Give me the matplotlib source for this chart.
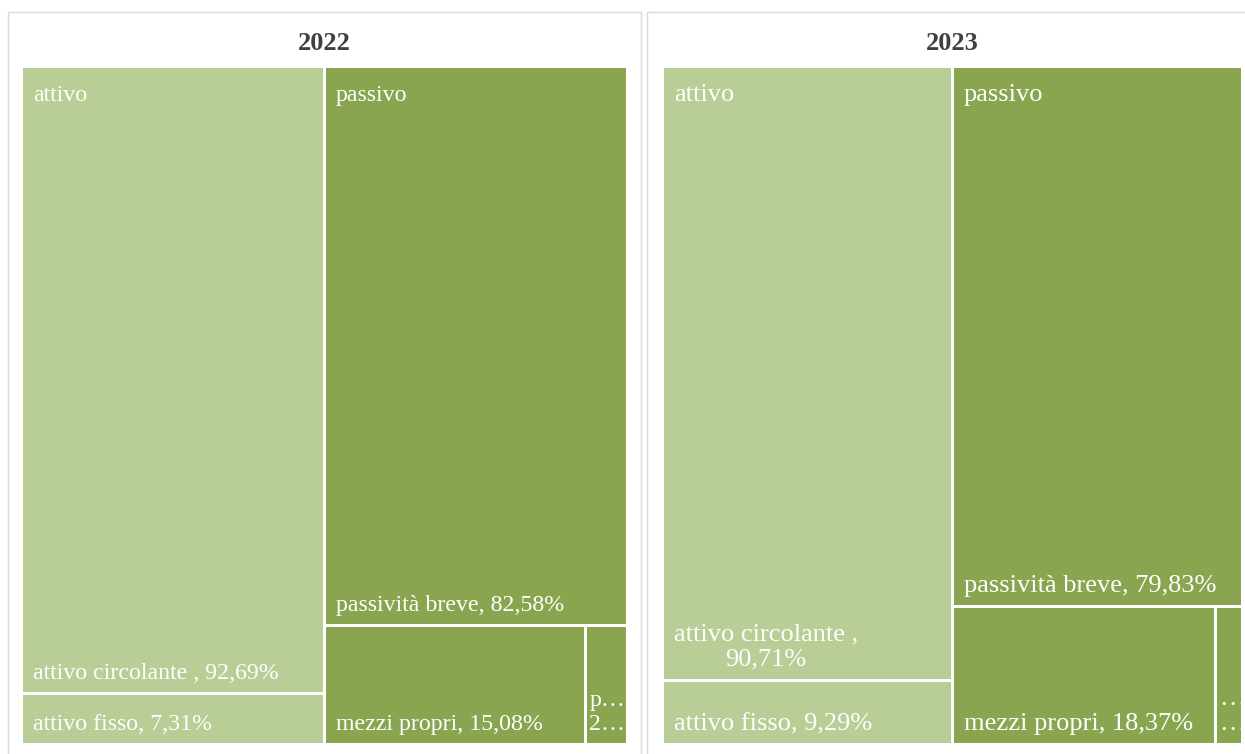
import matplotlib.pyplot as plt
from matplotlib.patches import Rectangle

# Stato patrimoniale, composizione percentuale
years = ["2022", "2023"]
groups = ["attivo", "passivo"]

attivo_names = ["attivo circolante ", "attivo fisso"]
attivo_2022 = [92.69, 7.31]
attivo_2023 = [90.71, 9.29]

passivo_names = ["passività breve", "mezzi propri", "passività a lungo"]
passivo_2022 = [82.58, 15.08, 2.34]
passivo_2023 = [79.83, 18.37, 1.80]

LIGHT = "#B9CD96"
DARK = "#8AA54F"
GAP = 3
PAD = 10

plt.rcParams["font.family"] = ["Liberation Serif", "DejaVu Serif"]

fig = plt.figure(figsize=(12.45, 7.54), dpi=100)
ax = fig.add_axes([0, 0, 1, 1])
ax.set_xlim(0, 1245)
ax.set_ylim(754, 0)
ax.axis("off")


def fmt(v):
    return f"{v:.2f}".replace(".", ",") + "%"


def squeeze_label(name, value, width):
    # labels that do not fit the box get cut short
    text = f"{name}, {fmt(value)}"
    if width > 120:
        return text
    if width > 32:
        return name[0] + "…\n" + fmt(value)[0] + "…"
    return "…\n…"


def leaf(x, y, w, h, color, label, fs, wrap=False):
    ax.add_patch(Rectangle((x, y), w, h, facecolor=color, edgecolor="none"))
    pad = PAD if w > 60 else 2
    t = ax.text(x + pad, y + h - 13, label, color="white",
                fontsize=fs, va="baseline", ha="left", multialignment="center")
    if wrap:
        fig.canvas.draw()
        bb = t.get_window_extent()
        if bb.width > w - 2 * PAD:
            t.set_text(label.replace(", ", ",\n", 1))


def group(x, y, w, h, names, values, color, title, fs):
    total = sum(values)
    # first item spans the whole width, the rest share the bottom row
    h0 = h * values[0] / total
    rest = values[1:]
    leaf(x, y, w, h0 - GAP / 2, color,
         f"{names[0]}, {fmt(values[0])}", fs, wrap=True)
    cx = x
    row_total = sum(rest)
    for i, (n, v) in enumerate(zip(names[1:], rest)):
        rw = w * v / row_total
        x0 = cx + (GAP / 2 if i > 0 else 0)
        ww = rw - (GAP / 2 if i > 0 else 0) - (GAP / 2 if i < len(rest) - 1 else 0)
        leaf(x0, y + h0 + GAP / 2, ww, h - h0 - GAP / 2, color,
             squeeze_label(n, v, ww), fs)
        cx += rw
    ax.text(x + PAD, y + 33, title, color="white", fontsize=fs,
            va="baseline", ha="left")


panels = [
    # panel frame (x0, x1), map area (x0, x1), label size
    ((8, 641), (23, 626), 17.2, attivo_2022, passivo_2022),
    ((647, 1300), (664, 1241), 19.0, attivo_2023, passivo_2023),
]

top, bottom = 68, 743
for year, (frame, area, fs, att, pas) in zip(years, panels):
    ax.add_patch(Rectangle((frame[0], 12), frame[1] - frame[0], 800,
                           facecolor="white", edgecolor="#D9D9D9", lw=1))
    ax.text((frame[0] + min(frame[1], 1257)) / 2, 43, year, ha="center",
            va="center", fontsize=19, fontweight="bold", color="#404040")
    half = (area[1] - area[0]) / 2
    group(area[0], top, half - GAP / 2, bottom - top, attivo_names, att,
          LIGHT, groups[0], fs)
    group(area[0] + half + GAP / 2, top, half - GAP / 2, bottom - top,
          passivo_names, pas, DARK, groups[1], fs)

fig.savefig("out.png", dpi=100)
